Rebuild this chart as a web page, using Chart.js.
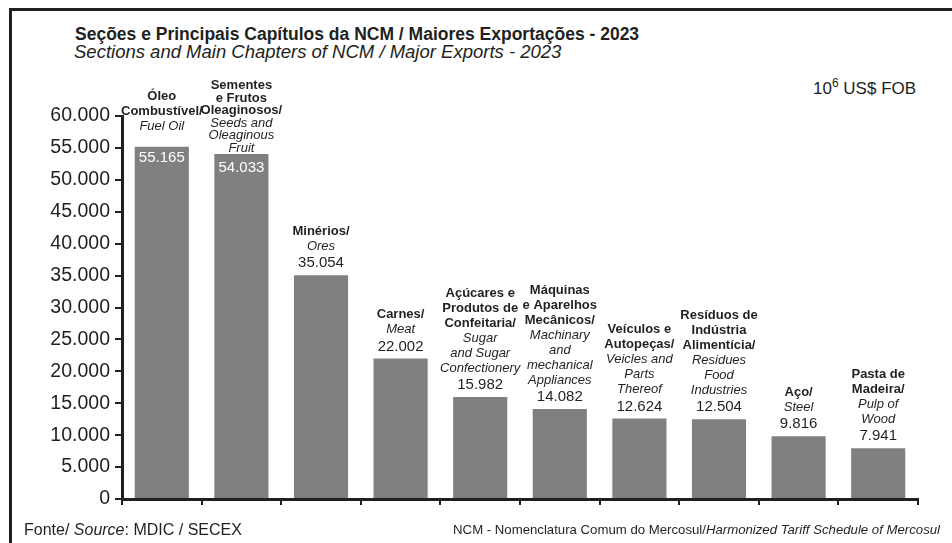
<!DOCTYPE html>
<html lang="pt">
<head>
  <meta charset="UTF-8" />
  <title>NCM - Maiores Exportações 2023</title>
  <script src="https://cdn.jsdelivr.net/npm/chart.js"></script>
  <style>
    body {
      margin: 0;
      width: 952px;
      height: 543px;
      overflow: hidden;
      background: #fff;
      font-family: 'Liberation Sans', Arial, sans-serif;
      color: #231f20;
      position: relative;
    }
    .frame {
      position: absolute;
      left: 9px;
      top: 8px;
      width: 960px;
      height: 560px;
      border-top: 3px solid #231f20;
      border-left: 3px solid #231f20;
    }
    .wrap {
      position: absolute;
      left: 0;
      top: 0;
      width: 952px;
      height: 543px;
    }
    .txt {
      position: absolute;
      white-space: nowrap;
    }
    #title { left: 75px; top: 24px; font-size: 17.5px; font-weight: bold; line-height: 20px; }
    #subtitle { left: 74px; top: 42px; font-size: 18.5px; font-style: italic; line-height: 20px; }
    #unit { left: 813px; top: 73px; font-size: 17px; line-height: 20px; }
    #unit sup { font-size: 12px; vertical-align: 7px; }
    #srcLeft { left: 24px; top: 521px; font-size: 16px; line-height: 18px; }
    #srcRight { right: 12px; top: 521px; font-size: 13.2px; line-height: 18px; }
  </style>
</head>
<body>
  <div class="frame"></div>
  <div class="txt" id="title">Seções e Principais Capítulos da NCM / Maiores Exportações - 2023</div>
  <div class="txt" id="subtitle">Sections and Main Chapters of NCM / Major Exports - 2023</div>
  <div class="txt" id="unit">10<sup>6</sup> US$ FOB</div>

  <div class="wrap">
    <canvas id="barChart"></canvas>
  </div>

  <div class="txt" id="srcLeft">Fonte/ <i>Source</i>: MDIC / SECEX</div>
  <div class="txt" id="srcRight">NCM - Nomenclatura Comum do Mercosul/<i>Harmonized Tariff Schedule of Mercosul</i></div>

  <script>
    // chart data
    const namesPt = [
      ['Óleo', 'Combustível/'],
      ['Sementes', 'e Frutos', 'Oleaginosos/'],
      ['Minérios/'],
      ['Carnes/'],
      ['Açúcares e', 'Produtos de', 'Confeitaria/'],
      ['Máquinas', 'e Aparelhos', 'Mecânicos/'],
      ['Veículos e', 'Autopeças/'],
      ['Resíduos de', 'Indústria', 'Alimentícia/'],
      ['Aço/'],
      ['Pasta de', 'Madeira/']
    ];
    const namesEn = [
      ['Fuel Oil'],
      ['Seeds and', 'Oleaginous', 'Fruit'],
      ['Ores'],
      ['Meat'],
      ['Sugar', 'and Sugar', 'Confectionery'],
      ['Machinary', 'and', 'mechanical', 'Appliances'],
      ['Veicles and', 'Parts', 'Thereof'],
      ['Residues', 'Food', 'Industries'],
      ['Steel'],
      ['Pulp of', 'Wood']
    ];
    const exportValues = [55165, 54033, 35054, 22002, 15982, 14082, 12624, 12504, 9816, 7941];
    const yTicks = [0, 5000, 10000, 15000, 20000, 25000, 30000, 35000, 40000, 45000, 50000, 55000, 60000];

    const ink = '#231f20';
    const fontFam = "'Liberation Sans', Arial, sans-serif";

    function fmt(v) {
      return String(v).replace(/\B(?=(\d{3})+(?!\d))/g, '.');
    }

    // draws the category names and values over each bar
    const barLabels = {
      id: 'barLabels',
      afterDatasetsDraw(chart, args, opts) {
        const ctx = chart.ctx;
        const meta = chart.getDatasetMeta(0);
        ctx.save();
        ctx.textAlign = 'center';
        ctx.textBaseline = 'middle';
        meta.data.forEach((bar, i) => {
          const v = exportValues[i];
          const x = bar.x;
          const top = bar.y;
          const inside = v > 50000;
          const lh = opts.tight[i] || 15;
          let y;
          if (inside) {
            ctx.fillStyle = '#ffffff';
            ctx.font = '15px ' + fontFam;
            ctx.fillText(fmt(v), x, top + (i === 1 ? 14 : 11));
            y = top - (i === 1 ? 6 : 20);
          } else {
            ctx.fillStyle = ink;
            ctx.font = '15px ' + fontFam;
            const vy = top - 12;
            ctx.fillText(fmt(v), x, vy);
            y = vy - 17;
          }
          ctx.fillStyle = ink;
          const en = namesEn[i];
          ctx.font = 'italic 13px ' + fontFam;
          for (let k = en.length - 1; k >= 0; k--) {
            ctx.fillText(en[k], x, y);
            y -= lh;
          }
          const pt = namesPt[i];
          ctx.font = 'bold 13px ' + fontFam;
          for (let k = pt.length - 1; k >= 0; k--) {
            ctx.fillText(pt[k], x, y);
            y -= lh;
          }
        });
        ctx.restore();
      }
    };

    new Chart(document.getElementById('barChart'), {
      type: 'bar',
      data: {
        labels: namesPt.map(l => l.join(' ')),
        datasets: [{
          data: exportValues,
          backgroundColor: '#808080',
          borderWidth: 0,
          barPercentage: 0.68,
          categoryPercentage: 1
        }]
      },
      options: {
        responsive: true,
        maintainAspectRatio: false,
        animation: false,
        layout: { padding: { top: 116, right: 34, bottom: 38, left: 0 } },
        plugins: {
          legend: { display: false },
          tooltip: { enabled: false },
          barLabels: { tight: { 1: 12.5 } }
        },
        scales: {
          x: {
            grid: { drawOnChartArea: false, tickLength: 6, color: ink, lineWidth: 2, offset: true },
            border: { color: ink, width: 3 },
            ticks: { display: false },
            afterFit: s => { s.height = 6; }
          },
          y: {
            min: 0,
            max: 60000,
            afterBuildTicks: s => { s.ticks = yTicks.map(v => ({ value: v })); },
            grid: { drawOnChartArea: false, tickLength: 7, color: ink, lineWidth: 2 },
            border: { color: ink, width: 3 },
            ticks: {
              color: ink,
              font: { family: fontFam, size: 19.5 },
              padding: 5,
              callback: v => fmt(v)
            },
            afterFit: s => { s.width = 122; }
          }
        }
      },
      plugins: [barLabels]
    });
  </script>
</body>
</html>
